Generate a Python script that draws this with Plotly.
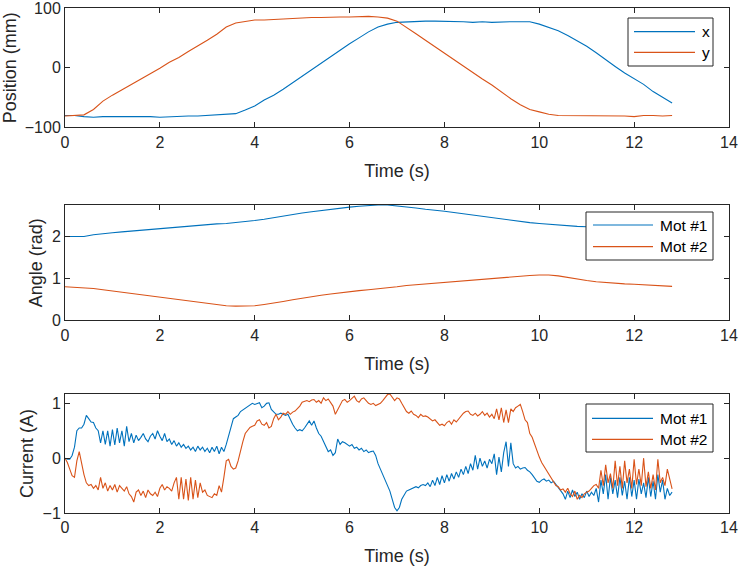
import numpy as np
import plotly.graph_objects as go

# ---------------- data ----------------
t_pos = np.round(np.arange(0, 12.8001, 0.2), 2)  # sample times (s) for position/angle

pos_x = [-80, -80, -82, -83, -82, -82, -81, -82, -82, -82,
         -83, -82, -82, -81, -81, -80, -80, -79, -77, -71,
         -64, -54, -46, -36, -25, -15, -4, 7, 19, 29,
         40, 50, 60, 68, 73, 76, 77, 78, 78, 78,
         78, 78, 77, 76, 77, 76, 77, 77, 77, 77,
         73, 68, 62, 54, 45, 36, 25, 13, 2, -9,
         -18, -28, -40, -50, -59]
pos_y = [-81, -80, -79, -70, -56, -46, -37, -29, -20, -10,
         -1, 9, 17, 27, 36, 46, 56, 68, 75, 78,
         80, 80, 81, 81, 82, 83, 84, 84, 85, 85,
         85, 86, 86, 85, 83, 78, 68, 57, 46, 35,
         25, 14, 3, -8, -19, -29, -41, -52, -62, -70,
         -74, -78, -80, -80, -80, -80, -81, -80, -81, -81,
         -82, -80, -80, -81, -80]

ang_1 = [2.00, 2.00, 2.00, 2.04, 2.07, 2.09, 2.11, 2.13, 2.15, 2.17,
         2.19, 2.21, 2.23, 2.25, 2.26, 2.28, 2.30, 2.31, 2.33, 2.35,
         2.38, 2.41, 2.45, 2.49, 2.53, 2.56, 2.59, 2.62, 2.65, 2.67,
         2.70, 2.72, 2.74, 2.75, 2.75, 2.73, 2.70, 2.68, 2.65, 2.63,
         2.60, 2.57, 2.54, 2.51, 2.47, 2.44, 2.41, 2.38, 2.35, 2.33,
         2.31, 2.29, 2.27, 2.26, 2.24, 2.23, 2.22, 2.21, 2.20, 2.19,
         2.18, 2.18, 2.17, 2.16, 2.16]
ang_2 = [0.80, 0.79, 0.78, 0.76, 0.73, 0.70, 0.68, 0.65, 0.62, 0.59,
         0.56, 0.53, 0.50, 0.47, 0.44, 0.41, 0.38, 0.35, 0.34, 0.34,
         0.35, 0.38, 0.41, 0.45, 0.49, 0.53, 0.56, 0.60, 0.63, 0.66,
         0.69, 0.71, 0.73, 0.75, 0.77, 0.80, 0.83, 0.85, 0.86, 0.88,
         0.90, 0.92, 0.94, 0.96, 0.98, 1.00, 1.02, 1.04, 1.06, 1.07,
         1.08, 1.08, 1.06, 1.02, 0.98, 0.95, 0.92, 0.90, 0.88, 0.87,
         0.86, 0.85, 0.84, 0.82, 0.81]

t_cur = np.round(np.arange(0, 12.8001, 0.05), 2)  # sample times (s) for current

cur_1 = [
    0.00, -0.02, -0.02, 0.05, 0.20, 0.50, 0.55, 0.55, 0.62, 0.78, 0.72, 0.66, 0.65, 0.55, 0.50, 0.28, 0.50, 0.25, 0.50, 0.22,
    0.52, 0.24, 0.55, 0.28, 0.50, 0.22, 0.58, 0.30, 0.45, 0.28, 0.42, 0.32, 0.38, 0.45, 0.35, 0.30, 0.40, 0.45, 0.35, 0.50,
    0.40, 0.32, 0.45, 0.30, 0.35, 0.25, 0.32, 0.22, 0.28, 0.20, 0.25, 0.18, 0.22, 0.15, 0.20, 0.12, 0.22, 0.15, 0.20, 0.12,
    0.18, 0.10, 0.20, 0.12, 0.22, 0.08, 0.20, 0.12, 0.25, 0.40, 0.55, 0.72, 0.75, 0.78, 0.85, 0.88, 0.92, 0.95, 0.98, 1.00,
    0.98, 1.00, 1.01, 0.92, 0.95, 1.00, 1.01, 0.89, 0.85, 0.80, 0.80, 0.82, 0.80, 0.78, 0.80, 0.70, 0.62, 0.55, 0.50, 0.52,
    0.50, 0.55, 0.62, 0.68, 0.60, 0.68, 0.55, 0.45, 0.40, 0.30, 0.20, 0.12, 0.15, 0.05, 0.10, 0.35, 0.25, 0.30, 0.28, 0.25,
    0.22, 0.25, 0.18, 0.20, 0.15, 0.18, 0.12, 0.15, 0.10, 0.12, 0.13, 0.05, -0.10, -0.20, -0.30, -0.38, -0.50, -0.60, -0.75, -0.90,
    -0.96, -0.90, -0.75, -0.68, -0.60, -0.58, -0.56, -0.55, -0.52, -0.54, -0.50, -0.48, -0.50, -0.45, -0.52, -0.40, -0.50, -0.35, -0.48, -0.32,
    -0.45, -0.30, -0.42, -0.28, -0.38, -0.25, -0.35, -0.20, -0.30, -0.15, -0.28, -0.10, -0.22, 0.05, -0.20, 0.00, -0.15, -0.05, -0.18, -0.02,
    -0.10, 0.08, -0.30, 0.02, -0.25, 0.10, 0.30, -0.15, 0.28, -0.10, -0.18, -0.15, -0.20, -0.18, -0.17, -0.22, -0.25, -0.30, -0.35, -0.42,
    -0.44, -0.40, -0.38, -0.42, -0.40, -0.45, -0.42, -0.48, -0.55, -0.60, -0.65, -0.75, -0.60, -0.72, -0.58, -0.70, -0.62, -0.75, -0.65, -0.72,
    -0.60, -0.70, -0.62, -0.68, -0.55, -0.80, -0.40, -0.65, -0.30, -0.75, -0.35, -0.65, -0.40, -0.72, -0.35, -0.68, -0.42, -0.75, -0.35, -0.70,
    -0.40, -0.75, -0.38, -0.65, -0.45, -0.72, -0.35, -0.70, -0.42, -0.75, -0.30, -0.62, -0.40, -0.75, -0.55, -0.68, -0.62]

cur_2 = [
    0.00, -0.08, -0.20, -0.32, -0.35, -0.05, 0.12, -0.10, -0.30, -0.45, -0.50, -0.48, -0.55, -0.50, -0.58, -0.35, -0.55, -0.45, -0.60, -0.50,
    -0.58, -0.48, -0.62, -0.50, -0.55, -0.60, -0.52, -0.65, -0.70, -0.80, -0.62, -0.58, -0.68, -0.60, -0.72, -0.58, -0.65, -0.68, -0.62, -0.70,
    -0.55, -0.48, -0.58, -0.52, -0.55, -0.60, -0.45, -0.35, -0.75, -0.35, -0.75, -0.38, -0.77, -0.35, -0.75, -0.40, -0.72, -0.45, -0.62, -0.58,
    -0.68, -0.70, -0.72, -0.65, -0.68, -0.50, -0.62, -0.35, -0.05, -0.02, -0.15, -0.20, -0.18, -0.05, 0.15, 0.30, 0.45, 0.50, 0.56, 0.58,
    0.60, 0.68, 0.70, 0.62, 0.60, 0.65, 0.55, 0.58, 0.72, 0.80, 0.70, 0.75, 0.82, 0.80, 0.85, 0.80, 0.84, 0.86, 0.90, 0.95,
    1.02, 1.04, 1.05, 1.03, 1.06, 1.07, 1.02, 1.05, 1.00, 1.10, 1.05, 1.08, 1.02, 0.95, 0.80, 0.88, 0.98, 1.05, 1.07, 1.02,
    1.05, 1.10, 1.13, 1.05, 1.02, 1.08, 1.10, 1.05, 1.00, 0.98, 1.00, 0.96, 0.98, 1.00, 1.05, 1.10, 1.16, 1.17, 1.12, 1.05,
    1.10, 1.08, 1.00, 0.92, 0.85, 0.82, 0.86, 0.80, 0.78, 0.74, 0.80, 0.76, 0.77, 0.75, 0.72, 0.68, 0.70, 0.65, 0.60, 0.62,
    0.59, 0.65, 0.68, 0.62, 0.70, 0.66, 0.72, 0.78, 0.82, 0.85, 0.86, 0.80, 0.78, 0.82, 0.77, 0.80, 0.85, 0.78, 0.82, 0.75,
    0.80, 0.72, 0.90, 0.70, 0.92, 0.65, 0.88, 0.65, 0.90, 0.85, 0.92, 0.95, 0.98, 0.85, 0.70, 0.65, 0.45, 0.38, 0.25, 0.16,
    0.02, -0.08, -0.15, -0.22, -0.30, -0.38, -0.45, -0.50, -0.52, -0.58, -0.56, -0.62, -0.55, -0.65, -0.70, -0.60, -0.75, -0.68, -0.72, -0.65,
    -0.62, -0.60, -0.55, -0.50, -0.48, -0.55, -0.22, -0.50, -0.12, -0.45, -0.28, -0.55, -0.05, -0.50, -0.15, -0.55, -0.05, -0.45, -0.20, -0.55,
    -0.02, -0.48, -0.20, -0.50, 0.00, -0.52, -0.25, -0.55, -0.30, -0.58, -0.02, -0.45, -0.35, -0.50, -0.20, -0.40, -0.56]

x_ticks = [0, 2, 4, 6, 8, 10, 12, 14]
labels_pos = ["x", "y"]
labels_mot = ["Mot #1", "Mot #2"]

# ---------------- styling ----------------
BLUE = "#0072BD"
ORANGE = "#D95319"
AX = "#262626"
FONT = "Liberation Sans, Arial, sans-serif"
W, H = 742, 569
ML, MR, MT, MB = 65, 13, 8, 56
PW, PH = W - ML - MR, H - MT - MB


def px(x):
    return (x - ML) / PW


def py(y):
    return (H - MB - y) / PH


fig = go.Figure()

series = [
    ("x", "y", t_pos, pos_x, BLUE),
    ("x", "y", t_pos, pos_y, ORANGE),
    ("x2", "y2", t_pos, ang_1, BLUE),
    ("x2", "y2", t_pos, ang_2, ORANGE),
    ("x3", "y3", t_cur, cur_1, BLUE),
    ("x3", "y3", t_cur, cur_2, ORANGE),
]
for xa, ya, tx, vals, col in series:
    fig.add_trace(go.Scatter(x=tx, y=vals, xaxis=xa, yaxis=ya, mode="lines",
                             line=dict(color=col, width=1.1), showlegend=False,
                             hoverinfo="skip"))

common = dict(showline=True, mirror="allticks", linecolor=AX, linewidth=1,
              ticks="inside", ticklen=5, tickcolor=AX, tickwidth=1,
              showgrid=False, zeroline=False, automargin=False,
              ticklabeloverflow="allow",
              tickfont=dict(family=FONT, size=16, color=AX))
title_font = dict(family=FONT, size=18, color=AX)

doms = [(0.7636, 1.0), (0.3814, 0.6099), (0.0, 0.2356)]
yranges = [[-100, 100], [0, 2.75], [-1, 1.17]]
ytickvals = [[-100, 0, 100], [0, 1, 2], [-1, 0, 1]]
ytitles = ["Position (mm)", "Angle (rad)", "Current (A)"]

layout = dict(width=W, height=H, paper_bgcolor="white", plot_bgcolor="white",
              margin=dict(l=ML, r=MR, t=MT, b=MB, autoexpand=False), showlegend=False,
              font=dict(family=FONT, color=AX))
for i in range(3):
    sfx = "" if i == 0 else str(i + 1)
    layout["xaxis" + sfx] = dict(common, domain=[0, 1], range=[0, 14], tickvals=x_ticks,
                                 anchor="y" + sfx,
                                 title=dict(text="Time (s)", font=title_font, standoff=14))
    layout["yaxis" + sfx] = dict(common, domain=list(doms[i]), range=yranges[i],
                                 tickvals=ytickvals[i], anchor="x" + sfx,
                                 title=dict(text=ytitles[i], font=title_font, standoff=4))
fig.update_layout(**layout)

# ---------------- legends (MATLAB-style boxes) ----------------
legends = [
    (labels_pos, (628, 18, 713, 66), (634, 695), (31.7, 52.3), 700),
    (labels_mot, (586, 212, 713, 260), (593, 653), (225, 246.7), 658),
    (labels_mot, (586, 404, 713, 452), (592, 653), (418.3, 439.3), 658),
]
for labs, (x0, y0, x1, y1), (lx0, lx1), (ly_a, ly_b), tx in legends:
    fig.add_shape(type="rect", xref="paper", yref="paper",
                  x0=px(x0), x1=px(x1), y0=py(y1), y1=py(y0),
                  fillcolor="white", line=dict(color=AX, width=1), layer="above")
    for lab, ly, col in zip(labs, (ly_a, ly_b), (BLUE, ORANGE)):
        fig.add_shape(type="line", xref="paper", yref="paper",
                      x0=px(lx0), x1=px(lx1), y0=py(ly), y1=py(ly),
                      line=dict(color=col, width=1.2), layer="above")
        fig.add_annotation(xref="paper", yref="paper", x=px(tx), y=py(ly),
                           text=lab, showarrow=False, xanchor="left", yanchor="middle",
                           font=dict(family=FONT, size=15.5, color="#000000"))

fig.write_html("out.html", config={"displayModeBar": False},
               post_script="document.body.style.margin='0';document.body.style.overflow='hidden';")
